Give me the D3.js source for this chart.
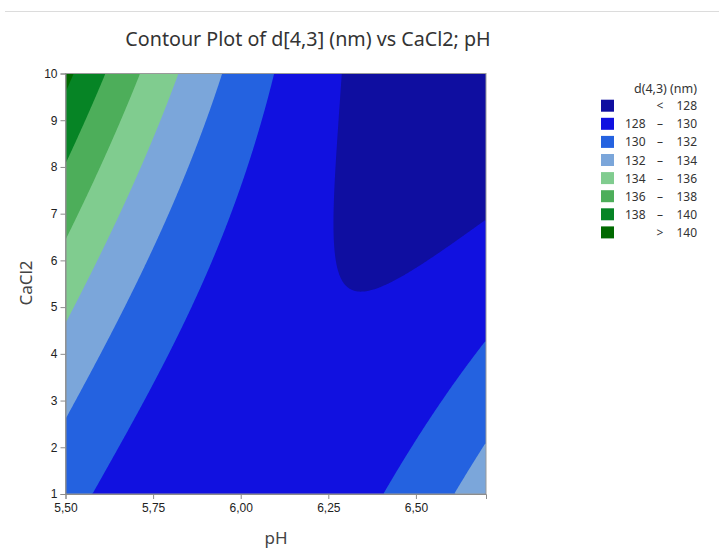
<!DOCTYPE html>
<html lang="en">
<head>
<meta charset="UTF-8">
<title>Contour Plot of d[4,3] (nm) vs CaCl2; pH</title>
<script src="https://d3js.org/d3.v7.min.js"></script>
<style>
    body { margin: 0; background: #fff; font-family: 'Noto Sans', 'Open Sans', sans-serif; }
    .tick text { font-size: 12px; fill: #222; }
    .tick line, .domain { stroke: #8c8c8c; }
</style>
</head>
<body>
<svg id="chart" width="719" height="557"></svg>
<script>
const phRange = [5.5, 6.7];
const caRange = [1, 10];
const phTicks = [5.5, 5.75, 6.0, 6.25, 6.5];
const caTicks = [1, 2, 3, 4, 5, 6, 7, 8, 9, 10];
const levels = [128, 130, 132, 134, 136, 138, 140];
const bandColors = ["#0f0ea0", "#1111e0", "#2462e0", "#7ba6da", "#80cc8f", "#4dae5a", "#068425", "#006a00"];
const bandLow = ["", "128", "130", "132", "134", "136", "138", ""];
const bandSep = ["<", "–", "–", "–", "–", "–", "–", ">"];
const bandHigh = ["128", "130", "132", "134", "136", "138", "140", "140"];

// fitted response surface, estimated from the contour crossings in the picture
// terms: 1, u, v, u², uv, v², u³, u²v, uv², v³  (u = coded pH, v = coded CaCl2)
const surfaceCoef = [128.5769, -2.8686, 0.8672, 3.3934, -4.2634, 0.6110, -0.0804, -0.0970, -0.0887, -0.1094];

function terms(ph, ca) {
    const u = (ph - 6.1) / 0.6, v = (ca - 5.5) / 4.5;
    return [1, u, v, u * u, u * v, v * v, u * u * u, u * u * v, u * v * v, v * v * v];
}
const model = (ph, ca) => d3.sum(terms(ph, ca), (t, i) => t * surfaceCoef[i]);

const svg = d3.select("#chart");
const x = d3.scaleLinear().domain(phRange).range([65.5, 486]);
const y = d3.scaleLinear().domain(caRange).range([494, 73.5]);

svg.append("line").attr("x1", 5).attr("x2", 719).attr("y1", 11.5).attr("y2", 11.5)
    .attr("stroke", "#dcdcdc").attr("stroke-width", 1);

svg.append("text").attr("x", 308).attr("y", 46).attr("text-anchor", "middle")
    .attr("font-size", 19.7).attr("fill", "#333")
    .text("Contour Plot of d[4,3] (nm) vs CaCl2; pH");

// grid of model values and filled bands
const nx = 300, ny = 300;
const values = new Array(nx * ny);
for (let j = 0; j < ny; j++) {
    const ca = caRange[1] - (j + 0.5) / ny * (caRange[1] - caRange[0]);
    for (let i = 0; i < nx; i++) {
        const ph = phRange[0] + (i + 0.5) / nx * (phRange[1] - phRange[0]);
        values[j * nx + i] = model(ph, ca);
    }
}
const gx = d3.scaleLinear().domain([0, nx]).range(x.range());
const gy = d3.scaleLinear().domain([0, ny]).range([y(caRange[1]), y(caRange[0])]);
const path = d3.geoPath(d3.geoTransform({
    point(px, py) { this.stream.point(gx(px), gy(py)); }
}));
const bands = d3.contours().size([nx, ny]).thresholds(levels)(values);

const px0 = x.range()[0], pw = x.range()[1] - x.range()[0];
const py0 = y.range()[1], ph = y.range()[0] - y.range()[1];

svg.append("clipPath").attr("id", "plot-clip").append("rect")
    .attr("x", px0).attr("y", py0).attr("width", pw).attr("height", ph);

const plot = svg.append("g").attr("clip-path", "url(#plot-clip)");
plot.append("rect")
    .attr("x", px0).attr("y", py0).attr("width", pw).attr("height", ph)
    .attr("fill", bandColors[0]);
plot.selectAll(".band").data(bands).enter().append("path")
    .attr("class", "band")
    .attr("d", path)
    .attr("fill", (d, i) => bandColors[i + 1]);

svg.append("rect")
    .attr("x", px0).attr("y", py0).attr("width", pw).attr("height", ph)
    .attr("fill", "none").attr("stroke", "#9a9a9a");

svg.append("g").attr("transform", `translate(0,${y.range()[0]})`)
    .call(d3.axisBottom(x).tickValues(phTicks).tickSize(5).tickPadding(4)
        .tickFormat(d => d.toFixed(2).replace(".", ",")));
svg.append("g").attr("transform", `translate(${px0},0)`)
    .call(d3.axisLeft(y).tickValues(caTicks).tickSize(5).tickPadding(3));

svg.append("text").attr("x", 276).attr("y", 544).attr("text-anchor", "middle")
    .attr("font-size", 17).attr("fill", "#444").text("pH");
svg.append("text").attr("transform", "translate(32,283) rotate(-90)").attr("text-anchor", "middle")
    .attr("font-size", 17).attr("fill", "#444").text("CaCl2");

// legend
const legend = svg.append("g").attr("font-size", 12).attr("fill", "#333");
legend.append("text").attr("x", 697).attr("y", 93).attr("text-anchor", "end")
    .attr("font-size", 12.5).text("d(4,3) (nm)");
const rows = legend.selectAll(".row").data(bandColors).enter().append("g")
    .attr("class", "row")
    .attr("transform", (d, i) => `translate(0,${105.7 + i * 18.1})`);
rows.append("rect").attr("x", 601).attr("y", -6).attr("width", 13).attr("height", 12)
    .attr("fill", d => d);
rows.append("text").attr("x", 625).attr("y", 4.5).text((d, i) => bandLow[i]);
rows.append("text").attr("x", 660).attr("y", 4.5).attr("text-anchor", "middle").text((d, i) => bandSep[i]);
rows.append("text").attr("x", 697).attr("y", 4.5).attr("text-anchor", "end").text((d, i) => bandHigh[i]);
</script>
</body>
</html>
